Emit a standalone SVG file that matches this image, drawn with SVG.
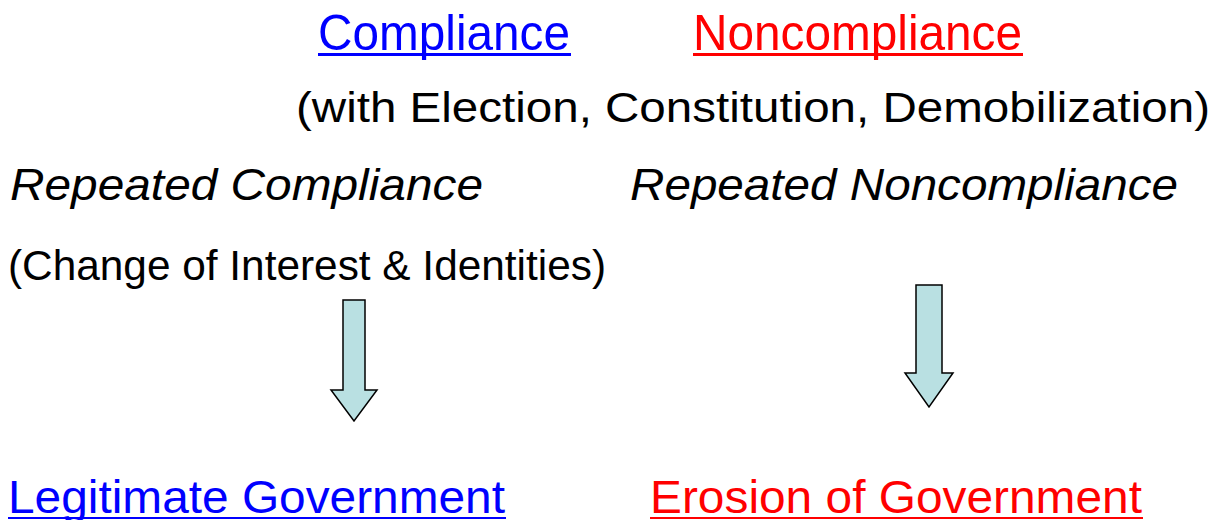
<svg xmlns="http://www.w3.org/2000/svg" width="1225" height="520" viewBox="0 0 1225 520">
  <style>
    .t { font-family: "Liberation Sans", Arial, sans-serif; }
    .blue { fill: #0000ff; }
    .red { fill: #ff0000; }
    .black { fill: #000000; }
    .it { font-style: italic; }
    .arrow { fill: #b9e0e2; stroke: #000000; stroke-width: 1.5; stroke-linejoin: miter; }
  </style>
  <rect width="1225" height="520" fill="#ffffff"/>

  <g id="compliance">
    <text class="t blue" x="318" y="50" font-size="50" textLength="252" lengthAdjust="spacingAndGlyphs">Compliance</text>
    <rect class="blue" x="318" y="53" width="253" height="3"/>
  </g>
  <g id="noncompliance">
    <text class="t red" x="693" y="50" font-size="50" textLength="329" lengthAdjust="spacingAndGlyphs">Noncompliance</text>
    <rect class="red" x="693" y="53" width="330" height="3"/>
  </g>
  <g id="scope">
    <text class="t black" x="296" y="122" font-size="42" textLength="914" lengthAdjust="spacingAndGlyphs">(with Election, Constitution, Demobilization)</text>
  </g>
  <g id="repeated-compliance">
    <text class="t black it" x="10" y="200" font-size="44" textLength="473" lengthAdjust="spacingAndGlyphs">Repeated Compliance</text>
  </g>
  <g id="repeated-noncompliance">
    <text class="t black it" x="630" y="200" font-size="44" textLength="548" lengthAdjust="spacingAndGlyphs">Repeated Noncompliance</text>
  </g>
  <g id="change">
    <text class="t black" x="8" y="280" font-size="42" textLength="598" lengthAdjust="spacingAndGlyphs">(Change of Interest &amp; Identities)</text>
  </g>
  <g id="legitimate">
    <text class="t blue" x="8" y="513" font-size="47" textLength="497" lengthAdjust="spacingAndGlyphs">Legitimate Government</text>
    <rect class="blue" x="8" y="517" width="498" height="2"/>
  </g>
  <g id="erosion">
    <text class="t red" x="650" y="513" font-size="47" textLength="492" lengthAdjust="spacingAndGlyphs">Erosion of Government</text>
    <rect class="red" x="650" y="517" width="493" height="2"/>
  </g>

  <g id="connectors">
    <path class="arrow" d="M343,300 H365 V390 H377 L354,421 L331,390 H343 Z"/>
    <path class="arrow" d="M916,285 H942 V373 H953 L929,407 L905,373 H916 Z"/>
  </g>
</svg>
